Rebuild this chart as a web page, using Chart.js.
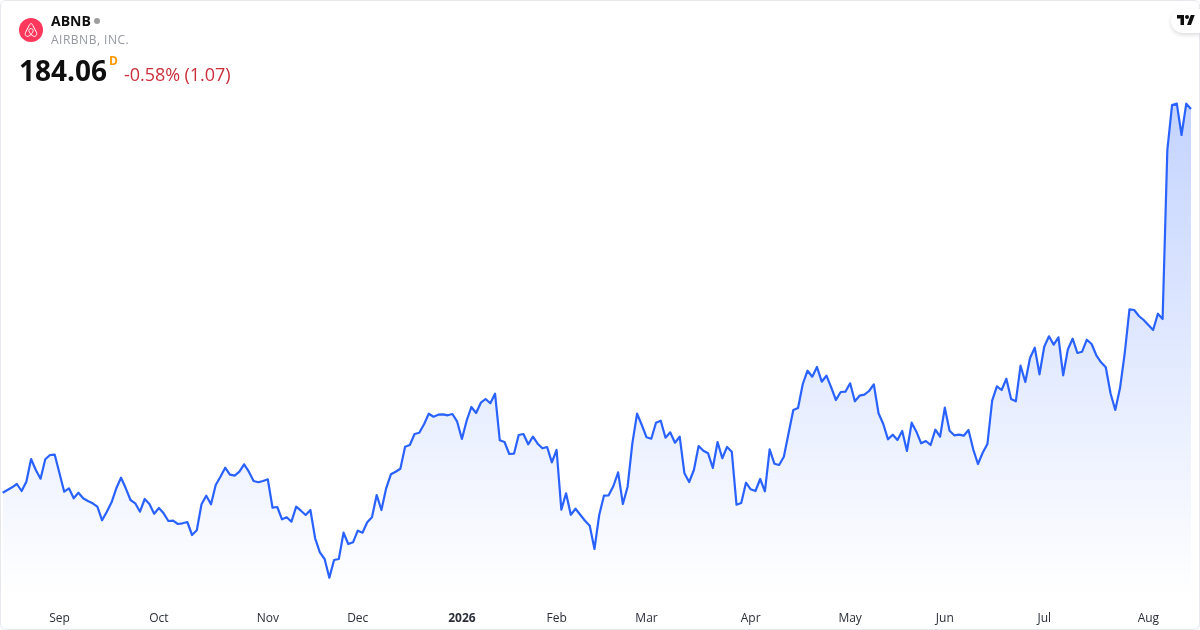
<!DOCTYPE html>
<html>
<head>
<meta charset="utf-8">
<title>ABNB</title>
<script src="https://cdn.jsdelivr.net/npm/chart.js@4"></script>
<style>
  html, body { margin: 0; padding: 0; background: #fff; }
  body { width: 1200px; height: 630px; overflow: hidden; position: relative; font-family: "Open Sans", "Noto Sans", sans-serif; }
  #chart { position: absolute; left: 0; top: 0; }
  .card { position: absolute; left: 0; top: 0; width: 1198px; height: 628px; border: 1px solid #e6e8ee; border-radius: 6px; pointer-events: none; }
  .t { position: absolute; white-space: nowrap; line-height: 1; }
  #symbol { left: 51px; top: 14px; font-size: 14px; font-weight: 700; color: #0f0f0f; }
  #dot { position: absolute; left: 94px; top: 18px; width: 6px; height: 6px; border-radius: 50%; background: #9e9e9e; }
  #name { left: 51px; top: 34px; font-size: 12px; letter-spacing: 0.5px; color: #9598a1; }
  #price { left: 19px; top: 56px; font-size: 28px; font-weight: 700; color: #0f0f0f; }
  #flag { left: 109px; top: 55px; font-size: 12px; font-weight: 700; color: #ff9800; }
  #change { left: 124px; top: 65px; font-size: 18px; letter-spacing: -0.05px; color: #cc2f3c; }
  #logo { position: absolute; left: 19px; top: 18px; }
  #tv { position: absolute; left: 1171px; top: 9px; width: 29px; height: 24px; background: #fff; border-radius: 12px 0 0 12px; box-shadow: 0 2px 4px rgba(0,0,0,.14); }
  #tv svg { position: absolute; left: 6px; top: 6px; }
</style>
</head>
<body>
<canvas id="chart" width="1200" height="630"></canvas>
<div class="card"></div>
<svg id="logo" width="24" height="24" viewBox="0 0 24 24">
  <circle cx="12" cy="12" r="12" fill="#ff385c"/>
  <path d="M12 16.4c-1.3-1.5-2.1-2.8-2.1-3.9 0-1.2.9-1.9 2.1-1.9s2.1.7 2.1 1.9c0 1.1-.8 2.4-2.1 3.9zm0 0c1.7 1.7 3.3 2.4 4.5 1.7 1.3-.7 1.5-2.2 1-3.6l-3.6-7c-.8-1.4-1.3-2-1.9-2s-1.1.6-1.9 2l-3.6 7c-.5 1.4-.3 2.9 1 3.6 1.2.7 2.8 0 4.5-1.7z" fill="none" stroke="#fff" stroke-width="1"/>
</svg>
<span class="t" id="symbol">ABNB</span><span id="dot"></span>
<span class="t" id="name">AIRBNB, INC.</span>
<span class="t" id="price">184.06</span>
<span class="t" id="flag">D</span>
<span class="t" id="change">-0.58% (1.07)</span>
<div id="tv">
  <svg width="18" height="10" viewBox="0 0 36 20"><path fill="#0f0f0f" d="M14 20H7V7H0V0h14v20zM28 20h-8l7.5-20h8L28 20z"/><circle cx="20" cy="4" r="4" fill="#0f0f0f"/></svg>
</div>
<script>
// daily closes
const closes = [
  107.32, 107.86, 108.40, 109.06, 107.66, 109.52, 114.06, 111.86, 110.12, 114.00,
  114.86, 114.92, 111.20, 107.52, 108.20, 106.20, 107.32, 106.20, 105.66, 105.20,
  104.52, 101.80, 103.52, 105.40, 108.20, 110.32, 108.20, 105.86, 105.20, 103.52,
  106.06, 105.06, 103.12, 104.26, 103.20, 101.66, 101.72, 101.06, 101.20, 101.46,
  98.86, 99.80, 105.00, 106.72, 105.00, 108.86, 110.52, 112.32, 110.92, 110.72,
  111.52, 113.00, 111.52, 109.66, 109.40, 109.66, 110.00, 104.32, 104.46, 102.00,
  102.40, 101.52, 104.52, 103.72, 102.86, 103.86, 98.20, 95.40, 94.06, 90.32,
  93.86, 94.06, 99.32, 97.06, 97.40, 99.72, 99.32, 101.40, 102.40, 106.86,
  103.86, 108.20, 111.00, 111.52, 112.12, 116.52, 116.86, 119.06, 119.32, 121.00,
  123.12, 122.52, 122.92, 123.00, 122.80, 123.06, 121.52, 118.06, 121.72, 124.46,
  123.26, 125.32, 126.06, 125.20, 127.12, 117.80, 117.46, 115.06, 115.12, 118.86,
  119.06, 117.00, 118.52, 117.12, 116.20, 116.46, 113.40, 115.86, 103.92, 107.20,
  102.92, 104.12, 102.92, 101.72, 100.72, 96.06, 102.86, 106.72, 106.80, 108.66,
  111.40, 105.06, 108.52, 117.20, 123.12, 120.86, 118.40, 118.12, 121.32, 121.72,
  118.32, 119.40, 117.32, 118.52, 111.20, 109.46, 111.86, 116.66, 115.72, 115.20,
  112.26, 117.46, 114.20, 116.46, 115.52, 104.92, 105.26, 109.32, 108.00, 107.66,
  110.06, 107.60, 116.00, 113.12, 112.86, 114.52, 119.20, 123.86, 124.26, 129.06,
  131.72, 130.52, 132.46, 129.52, 130.72, 128.40, 125.86, 127.46, 127.52, 129.20,
  125.60, 126.72, 126.92, 127.66, 129.00, 123.20, 121.06, 118.00, 118.92, 117.86,
  119.66, 115.66, 121.32, 119.52, 117.20, 117.66, 116.86, 119.92, 118.52, 124.32,
  119.72, 118.80, 118.92, 118.72, 119.86, 116.00, 113.06, 115.32, 117.06, 125.72,
  128.60, 127.86, 130.12, 126.06, 125.60, 132.72, 129.46, 134.26, 136.32, 131.00,
  136.52, 138.60, 136.92, 138.40, 130.80, 136.00, 138.12, 135.26, 135.52, 137.92,
  137.06, 134.80, 133.40, 132.40, 127.20, 123.86, 128.20, 135.20, 144.00, 143.86,
  142.66, 141.86, 140.86, 139.86, 143.12, 142.06, 175.86, 184.86, 185.13, 178.86,
  185.13, 184.06
];
// month labels and the bar each one sits on
const tickLabels = ['Sep', 'Oct', 'Nov', 'Dec', '2026', 'Feb', 'Mar', 'Apr', 'May', 'Jun', 'Jul', 'Aug'];
const tickBars = [12, 33, 56, 75, 97, 117, 136, 158, 179, 199, 220, 242];

const labelFor = (i) => {
  const k = tickBars.indexOf(i);
  return k === -1 ? null : tickLabels[k];
};

new Chart(document.getElementById('chart'), {
  type: 'line',
  data: {
    labels: closes.map((_, i) => i),
    datasets: [{
      data: closes,
      borderColor: '#2962ff',
      borderWidth: 2.2,
      borderJoinStyle: 'round',
      pointRadius: 0,
      tension: 0,
      fill: 'start',
      backgroundColor: (ctx) => {
        const area = ctx.chart.chartArea;
        if (!area) return 'transparent';
        const g = ctx.chart.ctx.createLinearGradient(0, 100, 0, area.bottom - 5);
        g.addColorStop(0, 'rgba(41, 98, 255, 0.28)');
        g.addColorStop(1, 'rgba(41, 98, 255, 0)');
        return g;
      },
    }],
  },
  options: {
    responsive: false,
    animation: false,
    layout: { padding: { left: 2.67, right: 9, top: 0, bottom: 0 } },
    plugins: { legend: { display: false }, tooltip: { enabled: false } },
    scales: {
      y: { display: false, min: 85.86, max: 205.86 },
      x: {
        afterFit: (s) => { s.height = 30; },
        border: { display: false },
        grid: { display: false, drawTicks: false },
        ticks: {
          autoSkip: false,
          maxRotation: 0,
          padding: 11,
          color: '#2a2e39',
          font: (ctx) => ({
            family: '"Open Sans", "Noto Sans", sans-serif',
            size: 12,
            weight: ctx.tick && ctx.tick.label === '2026' ? '700' : '400',
          }),
          callback: (v, i) => labelFor(i),
        },
      },
    },
  },
});
</script>
</body>
</html>
